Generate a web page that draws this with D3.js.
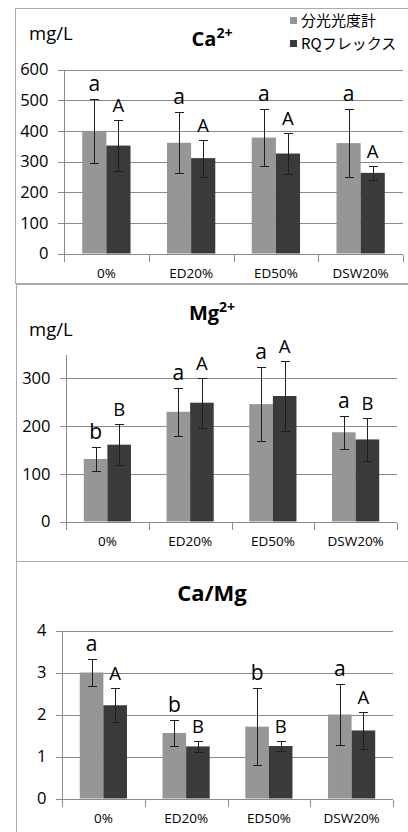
<!DOCTYPE html>
<html>
<head>
  <meta charset="utf-8">
  <title>Ca / Mg</title>
  <script src="https://d3js.org/d3.v7.min.js"></script>
  <style>
    body { margin: 0; background: #fff; }
    text { font-family: "Open Sans", "Noto Sans CJK JP", sans-serif; fill: #000; }
    .grid line { stroke: #8a8a8a; shape-rendering: crispEdges; }
    .axis path, .axis line { stroke: #8a8a8a; shape-rendering: crispEdges; }
    .frame { fill: none; stroke: #ababab; shape-rendering: crispEdges; }
    .err { stroke: #1e1e1e; stroke-width: 1; shape-rendering: crispEdges; }
  </style>
</head>
<body>
  <script>
    // data
    const categories = ["0%", "ED20%", "ED50%", "DSW20%"];
    const seriesNames = ["分光光度計", "RQフレックス"];

    const caSpec = [400, 361, 378, 360];
    const caSpecErr = [104, 100, 93, 112];
    const caRq = [352, 311, 326, 263];
    const caRqErr = [82, 60, 67, 22];
    const caSpecLetters = ["a", "a", "a", "a"];
    const caRqLetters = ["A", "A", "A", "A"];

    const mgSpec = [131, 230, 246, 187];
    const mgSpecErr = [25, 50, 77, 35];
    const mgRq = [161, 249, 263, 172];
    const mgRqErr = [43, 52, 73, 45];
    const mgSpecLetters = ["b", "a", "a", "a"];
    const mgRqLetters = ["B", "A", "A", "B"];

    const ratioSpec = [3.0, 1.56, 1.71, 2.0];
    const ratioSpecErr = [0.33, 0.31, 0.92, 0.73];
    const ratioRq = [2.22, 1.24, 1.25, 1.62];
    const ratioRqErr = [0.41, 0.13, 0.12, 0.44];
    const ratioSpecLetters = ["a", "b", "b", "a"];
    const ratioRqLetters = ["A", "B", "B", "A"];

    const caTicks = [0, 100, 200, 300, 400, 500, 600];
    const mgTicks = [0, 100, 200, 300];
    const ratioTicks = [0, 1, 2, 3, 4];

    const colors = ["#969696", "#3a3a3a"];

    const width = 408, height = 832;
    const svg = d3.select("body").append("svg")
        .attr("width", width)
        .attr("height", height);

    // one entry per stacked chart
    const panels = [
      { frame: [15.5, 8.5, 400, 275], x0: 64, x1: 403, yTop: 69.5, yBot: 253.5, max: 600, ticks: caTicks,
        title: "Ca", sup: "2+", titleY: 46, unitY: 40,
        series: [[caSpec, caSpecErr, caSpecLetters], [caRq, caRqErr, caRqLetters]], legend: true },
      { frame: [16.5, 284.5, 400, 277], x0: 66, x1: 397, yTop: 354.5, yBot: 521.5, max: 350, ticks: mgTicks,
        title: "Mg", sup: "2+", titleY: 320, unitY: 336,
        series: [[mgSpec, mgSpecErr, mgSpecLetters], [mgRq, mgRqErr, mgRqLetters]] },
      { frame: [16.5, 561.5, 400, 290], x0: 62, x1: 393, yTop: 630.5, yBot: 798.5, max: 4, ticks: ratioTicks,
        title: "Ca/Mg", titleY: 601, titleSize: 22,
        series: [[ratioSpec, ratioSpecErr, ratioSpecLetters], [ratioRq, ratioRqErr, ratioRqLetters]] }
    ];

    panels.forEach(p => {
      const g = svg.append("g");

      g.append("rect").attr("class", "frame")
          .attr("x", p.frame[0]).attr("y", p.frame[1])
          .attr("width", p.frame[2]).attr("height", p.frame[3]);

      const x = d3.scaleBand().domain(categories).range([p.x0, p.x1])
          .paddingInner(0.43).paddingOuter(0.215);
      const xs = d3.scaleBand().domain([0, 1]).range([0, x.bandwidth()]);
      const y = d3.scaleLinear().domain([0, p.max]).range([p.yBot, p.yTop]);

      // gridlines
      g.append("g").attr("class", "grid")
          .selectAll("line").data(p.ticks.filter(t => t > 0)).join("line")
          .attr("x1", p.x0 - 6).attr("x2", p.x1)
          .attr("y1", d => Math.round(y(d)) + 0.5).attr("y2", d => Math.round(y(d)) + 0.5);

      // y axis
      const yAxis = g.append("g").attr("class", "axis")
          .attr("transform", `translate(${p.x0 + 0.5},0)`)
          .call(d3.axisLeft(y).tickValues(p.ticks).tickFormat(d3.format("d"))
            .tickSize(6).tickSizeOuter(0).tickPadding(10));
      yAxis.selectAll("text").style("font-size", "16.5px").attr("fill", "#000");
      yAxis.select(".domain").attr("d", `M0,${p.yTop}V${p.yBot}`);

      // x axis: ticks on band edges, labels at centres
      const edges = d3.scaleLinear().domain([0, categories.length]).range([p.x0, p.x1]);
      g.append("g").attr("class", "axis")
          .attr("transform", `translate(0,${Math.round(p.yBot) + 0.5})`)
          .call(d3.axisBottom(edges).tickValues(d3.range(categories.length + 1))
            .tickFormat("").tickSize(7).tickSizeOuter(0))
          .select(".domain").attr("d", `M${p.x0 - 6},0H${p.x1}`);
      const xl = g.append("g")
          .attr("transform", `translate(0,${p.yBot})`)
          .call(d3.axisBottom(x).tickSize(0).tickPadding(15));
      xl.select(".domain").remove();
      xl.selectAll("text").style("font-size", "13.5px").attr("fill", "#000");

      // bars, error bars and letters
      p.series.forEach(([vals, errs, letters], si) => {
        const gs = g.append("g");
        const cx = (i) => x(categories[i]) + xs(si) + xs.bandwidth() / 2;

        gs.selectAll("rect").data(vals).join("rect")
            .attr("x", (d, i) => x(categories[i]) + xs(si))
            .attr("y", d => y(d))
            .attr("width", xs.bandwidth())
            .attr("height", d => y(0) - y(d))
            .attr("fill", colors[si]);

        const eb = gs.selectAll("g.eb").data(vals).join("g").attr("class", "eb");
        eb.append("line").attr("class", "err")
            .attr("x1", (d, i) => Math.round(cx(i)) + 0.5).attr("x2", (d, i) => Math.round(cx(i)) + 0.5)
            .attr("y1", (d, i) => y(d + errs[i])).attr("y2", (d, i) => y(d - errs[i]));
        [1, -1].forEach(s => {
          eb.append("line").attr("class", "err")
              .attr("x1", (d, i) => Math.round(cx(i)) - 4).attr("x2", (d, i) => Math.round(cx(i)) + 5)
              .attr("y1", (d, i) => Math.round(y(d + s * errs[i])) + 0.5)
              .attr("y2", (d, i) => Math.round(y(d + s * errs[i])) + 0.5);
        });

        gs.selectAll("text.letter").data(letters).join("text").attr("class", "letter")
            .attr("x", (d, i) => cx(i))
            .attr("y", (d, i) => y(vals[i] + errs[i]) - 8)
            .attr("text-anchor", "middle")
            .style("font-size", d => d === d.toLowerCase() ? "21px" : "18.5px")
            .text(d => d);
      });

      // title and unit
      const t = g.append("text")
          .attr("x", 212).attr("y", p.titleY)
          .attr("text-anchor", "middle")
          .style("font-size", (p.titleSize || 20) + "px")
          .style("font-weight", "bold")
          .text(p.title);
      if (p.sup) {
        t.append("tspan").attr("dy", -8).style("font-size", "14px").text(p.sup);
      }
      if (p.unitY) {
        g.append("text").attr("x", 29).attr("y", p.unitY)
            .style("font-size", "18.5px").text("mg/L");
      }

      if (p.legend) {
        const lg = g.append("g").attr("transform", "translate(290,0)");
        seriesNames.forEach((name, i) => {
          lg.append("rect").attr("x", 0).attr("y", 17 + i * 23)
              .attr("width", 7).attr("height", 7).attr("fill", colors[i]);
          lg.append("text").attr("x", 11).attr("y", 25.5 + i * 23)
              .style("font-family", "'Noto Sans CJK JP', sans-serif")
              .style("font-size", "15px").text(name);
        });
      }
    });
  </script>
</body>
</html>
